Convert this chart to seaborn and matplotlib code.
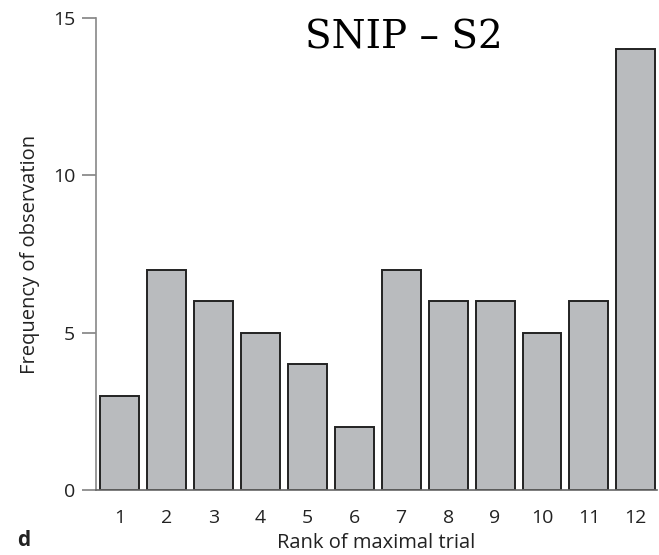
import matplotlib
matplotlib.use("Agg")
import matplotlib.pyplot as plt
import seaborn as sns
import pandas as pd

ranks = ["1", "2", "3", "4", "5", "6", "7", "8", "9", "10", "11", "12"]
frequency = [3, 7, 6, 5, 4, 2, 7, 6, 6, 5, 6, 14]
y_ticks = [0, 5, 10, 15]

sns.set_theme(style="ticks")
plt.rcParams['font.family'] = ['Open Sans', 'DejaVu Sans']

df = pd.DataFrame({"rank": ranks, "freq": frequency})

fig = plt.figure(figsize=(6.59, 5.55), dpi=100)
ax = fig.add_axes([96/659, 1-490/555, (657-96)/659, (490-18)/555])

sns.barplot(data=df, x="rank", y="freq", color="#b9bbbe", saturation=1,
            edgecolor="#222222", linewidth=1.4, width=0.83, ax=ax)

ax.set_xlim(-0.5, 11.45)
ax.set_ylim(0, 15)
ax.set_yticks(y_ticks)
ax.set_yticklabels([str(v) for v in y_ticks], fontsize=14, color="#222222")
ax.tick_params(axis="y", length=10, width=1.1, color="#777777", pad=5)
ax.tick_params(axis="x", length=0, pad=14, labelsize=14, labelcolor="#222222")

for s in ["top", "right"]:
    ax.spines[s].set_visible(False)
ax.spines["left"].set_color("#888888")
ax.spines["left"].set_linewidth(1.2)
ax.spines["bottom"].set_color("#666666")
ax.spines["bottom"].set_linewidth(1.2)

ax.set_xlabel("Rank of maximal trial", fontsize=14.5, color="#222222", labelpad=4)
ax.set_ylabel("Frequency of observation", fontsize=14.5, color="#222222", labelpad=9)

fig.text(404/659, 1-38/555, "SNIP – S2", family=["DejaVu Serif"],
         fontsize=28, ha="center", va="center", color="black")
fig.text(17/659, 1-541/555, "d", fontsize=15, fontweight="bold", ha="left", va="center", color="#222222")

fig.savefig("out.png", dpi=100)
